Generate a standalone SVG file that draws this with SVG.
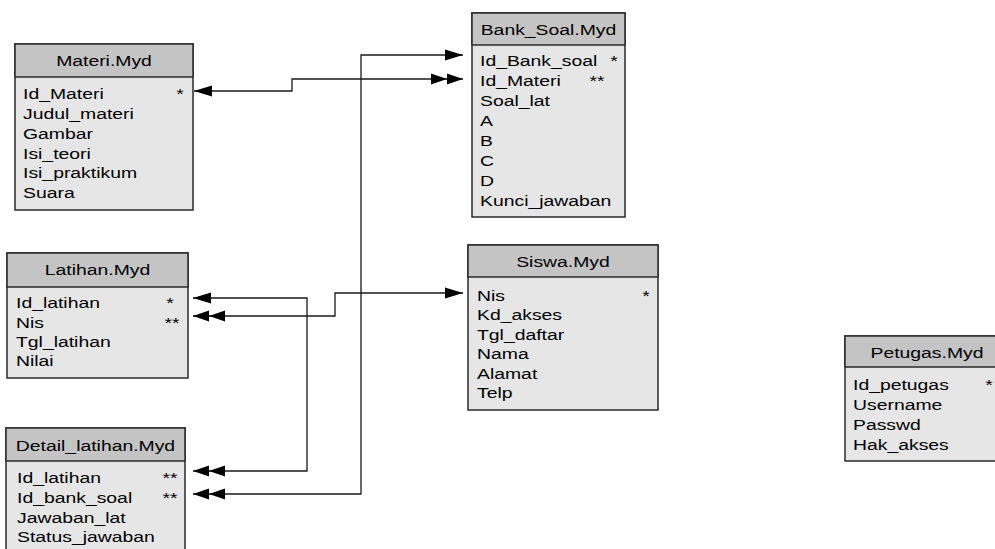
<svg xmlns="http://www.w3.org/2000/svg" width="995" height="549" viewBox="0 0 995 549">
  <style>
    .body { fill: #e6e6e6; stroke: #2a2a2a; stroke-width: 1.5; }
    .head { fill: #c4c4c4; stroke: #2a2a2a; stroke-width: 1.5; }
    .t { font-family: "Liberation Sans", Arial, sans-serif; font-size: 15.5px; fill: #000; }
    .c { text-anchor: middle; }
    .link { fill: none; stroke: #1a1a1a; stroke-width: 1.3; }
  </style>
  <defs>
    <marker id="one" markerWidth="19" markerHeight="12" refX="18" refY="6" orient="auto-start-reverse" markerUnits="userSpaceOnUse">
      <path d="M0,0.5 L18,6 L0,11.5 z" fill="#000"/>
    </marker>
    <marker id="two" markerWidth="33" markerHeight="12" refX="32" refY="6" orient="auto-start-reverse" markerUnits="userSpaceOnUse">
      <path d="M0,0.5 L16,6 L0,11.5 z M16,0.5 L32,6 L16,11.5 z" fill="#000"/>
    </marker>
  </defs>

  <rect width="995" height="549" fill="#ffffff"/>

  <!-- Materi -->
  <g id="materi">
    <rect class="body" x="15" y="44" width="178" height="166"/>
    <rect class="head" x="15" y="44" width="178" height="33"/>
    <text class="t c" transform="matrix(1.25 0 0 1 104 66)">Materi.Myd</text>
    <text class="t" transform="matrix(1.25 0 0 1 23 99)">Id_Materi</text>
    <text class="t c" transform="matrix(1.25 0 0 1 180 99)">*</text>
    <text class="t" transform="matrix(1.25 0 0 1 23 119)">Judul_materi</text>
    <text class="t" transform="matrix(1.25 0 0 1 23 139)">Gambar</text>
    <text class="t" transform="matrix(1.25 0 0 1 23 158.5)">Isi_teori</text>
    <text class="t" transform="matrix(1.25 0 0 1 23 178)">Isi_praktikum</text>
    <text class="t" transform="matrix(1.25 0 0 1 23 198)">Suara</text>
  </g>

  <!-- Bank_Soal -->
  <g id="bank_soal">
    <rect class="body" x="472" y="13" width="153" height="204"/>
    <rect class="head" x="472" y="13" width="153" height="32"/>
    <text class="t c" transform="matrix(1.25 0 0 1 548.5 35)">Bank_Soal.Myd</text>
    <text class="t" transform="matrix(1.25 0 0 1 480 65.5)">Id_Bank_soal</text>
    <text class="t c" transform="matrix(1.25 0 0 1 614 65.5)">*</text>
    <text class="t" transform="matrix(1.25 0 0 1 480 85.6)">Id_Materi</text>
    <text class="t c" transform="matrix(1.25 0 0 1 597 85.6)">**</text>
    <text class="t" transform="matrix(1.25 0 0 1 480 105.7)">Soal_lat</text>
    <text class="t" transform="matrix(1.25 0 0 1 480 125.8)">A</text>
    <text class="t" transform="matrix(1.25 0 0 1 480 145.9)">B</text>
    <text class="t" transform="matrix(1.25 0 0 1 480 166)">C</text>
    <text class="t" transform="matrix(1.25 0 0 1 480 186)">D</text>
    <text class="t" transform="matrix(1.25 0 0 1 480 206)">Kunci_jawaban</text>
  </g>

  <!-- Siswa -->
  <g id="siswa">
    <rect class="body" x="468" y="245" width="190" height="165"/>
    <rect class="head" x="468" y="245" width="190" height="32"/>
    <text class="t c" transform="matrix(1.25 0 0 1 563 267)">Siswa.Myd</text>
    <text class="t" transform="matrix(1.25 0 0 1 477 300.5)">Nis</text>
    <text class="t c" transform="matrix(1.25 0 0 1 646 300.5)">*</text>
    <text class="t" transform="matrix(1.25 0 0 1 477 320)">Kd_akses</text>
    <text class="t" transform="matrix(1.25 0 0 1 477 339.5)">Tgl_daftar</text>
    <text class="t" transform="matrix(1.25 0 0 1 477 359)">Nama</text>
    <text class="t" transform="matrix(1.25 0 0 1 477 378.5)">Alamat</text>
    <text class="t" transform="matrix(1.25 0 0 1 477 398)">Telp</text>
  </g>

  <!-- Latihan -->
  <g id="latihan">
    <rect class="body" x="7" y="253" width="181" height="125"/>
    <rect class="head" x="7" y="253" width="181" height="34"/>
    <text class="t c" transform="matrix(1.25 0 0 1 97.5 275)">Latihan.Myd</text>
    <text class="t" transform="matrix(1.25 0 0 1 16 308)">Id_latihan</text>
    <text class="t c" transform="matrix(1.25 0 0 1 170 308)">*</text>
    <text class="t" transform="matrix(1.25 0 0 1 16 327.5)">Nis</text>
    <text class="t c" transform="matrix(1.25 0 0 1 172 327.5)">**</text>
    <text class="t" transform="matrix(1.25 0 0 1 16 346.5)">Tgl_latihan</text>
    <text class="t" transform="matrix(1.25 0 0 1 16 365.5)">Nilai</text>
  </g>

  <!-- Detail_latihan -->
  <g id="detail_latihan">
    <rect class="body" x="6" y="428" width="179" height="140"/>
    <rect class="head" x="6" y="428" width="179" height="33"/>
    <text class="t c" transform="matrix(1.25 0 0 1 95.5 450.5)">Detail_latihan.Myd</text>
    <text class="t" transform="matrix(1.25 0 0 1 17 483)">Id_latihan</text>
    <text class="t c" transform="matrix(1.25 0 0 1 170 483)">**</text>
    <text class="t" transform="matrix(1.25 0 0 1 17 503)">Id_bank_soal</text>
    <text class="t c" transform="matrix(1.25 0 0 1 170 503)">**</text>
    <text class="t" transform="matrix(1.25 0 0 1 17 522.5)">Jawaban_lat</text>
    <text class="t" transform="matrix(1.25 0 0 1 17 542)">Status_jawaban</text>
  </g>

  <!-- Petugas -->
  <g id="petugas">
    <rect class="body" x="845" y="336" width="165" height="125"/>
    <rect class="head" x="845" y="336" width="165" height="31"/>
    <text class="t c" transform="matrix(1.25 0 0 1 927 358)">Petugas.Myd</text>
    <text class="t" transform="matrix(1.25 0 0 1 853 390)">Id_petugas</text>
    <text class="t c" transform="matrix(1.25 0 0 1 989 390)">*</text>
    <text class="t" transform="matrix(1.25 0 0 1 853 410)">Username</text>
    <text class="t" transform="matrix(1.25 0 0 1 853 430)">Passwd</text>
    <text class="t" transform="matrix(1.25 0 0 1 853 450)">Hak_akses</text>
  </g>

  <!-- Relations -->
  <g id="connectors">
    <path class="link" d="M194,91 H292 V79 H463" marker-start="url(#one)" marker-end="url(#two)"/>
    <path class="link" d="M463,55 H361 V494 H193" marker-start="url(#one)" marker-end="url(#two)"/>
    <path class="link" d="M193,298 H307 V471 H193" marker-start="url(#one)" marker-end="url(#two)"/>
    <path class="link" d="M193,316 H335 V293 H463" marker-start="url(#two)" marker-end="url(#one)"/>
  </g>
</svg>
